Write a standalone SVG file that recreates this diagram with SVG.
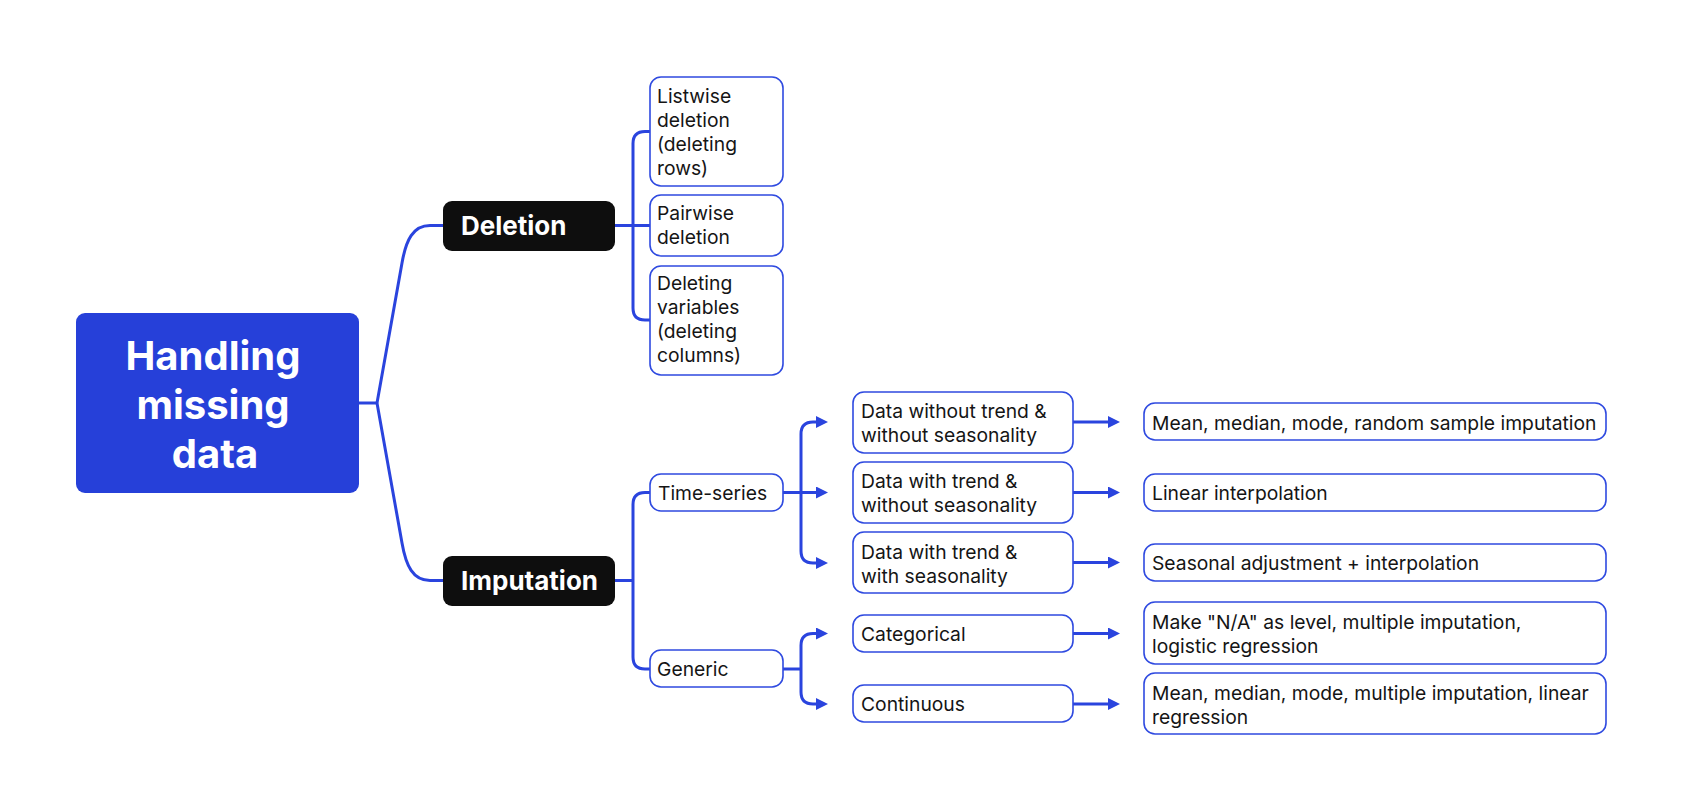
<svg xmlns="http://www.w3.org/2000/svg" width="1683" height="811" viewBox="0 0 1683 811">
<style>
.bg{fill:#ffffff}
.leaf{fill:#ffffff;stroke:#2f4ae0;stroke-width:1.6}
.dark{fill:#0e0e0e}
.t{font-family:Inter,"Open Sans","Liberation Sans",sans-serif;font-size:19.3px;fill:#151515}
.h{font-family:Inter,"Open Sans","Liberation Sans",sans-serif;font-weight:700;fill:#ffffff}
.c{fill:none;stroke:#2a44de;stroke-width:3}
</style>
<defs>
<marker id="arr" viewBox="0 0 12 12" refX="0" refY="6" markerWidth="12" markerHeight="12" markerUnits="userSpaceOnUse" orient="auto">
<path d="M0,0 L12,6 L0,12 z" fill="#2a44de"/>
</marker>
</defs>
<rect class="bg" x="0" y="0" width="1683" height="811"/>
<g id="connectors">
<path class="c" d="M359,403 H377"/>
<path class="c" d="M377,403 L402,263 C406,240 413,225.5 430,225.5 H443"/>
<path class="c" d="M377,403 L402,543 C406,566 413,580.5 430,580.5 H443"/>
<path class="c" d="M615,225.5 H650"/>
<path class="c" d="M650,131.5 H645 Q633,131.5 633,143.5 V308 Q633,320 645,320 H650"/>
<path class="c" d="M615,580.5 H633"/>
<path class="c" d="M650,492.5 H645 Q633,492.5 633,504.5 V657 Q633,669 645,669 H650"/>
<path class="c" d="M783,492.5 H816" marker-end="url(#arr)"/>
<path class="c" d="M801,492.5 V434 Q801,422 813,422 H816" marker-end="url(#arr)"/>
<path class="c" d="M801,492.5 V551 Q801,563 813,563 H816" marker-end="url(#arr)"/>
<path class="c" d="M783,669 H801"/>
<path class="c" d="M801,669 V645.5 Q801,633.5 813,633.5 H816" marker-end="url(#arr)"/>
<path class="c" d="M801,669 V692 Q801,704 813,704 H816" marker-end="url(#arr)"/>
<path class="c" d="M1073,422 H1108" marker-end="url(#arr)"/>
<path class="c" d="M1073,492.5 H1108" marker-end="url(#arr)"/>
<path class="c" d="M1073,562.5 H1108" marker-end="url(#arr)"/>
<path class="c" d="M1073,633.5 H1108" marker-end="url(#arr)"/>
<path class="c" d="M1073,704 H1108" marker-end="url(#arr)"/>
</g>
<g id="root">
<rect x="76" y="313" width="283" height="180" rx="9" fill="#2640d9"/>
<text class="h" font-size="40" text-anchor="middle"><tspan x="213" y="370">Handling</tspan><tspan x="213" y="419">missing</tspan><tspan x="215" y="468">data</tspan></text>
</g>
<g id="deletion">
<rect class="dark" x="443" y="201" width="172" height="50" rx="9"/>
<text class="h" font-size="26" x="461" y="235">Deletion</text>
</g>
<g id="imputation">
<rect class="dark" x="443" y="556" width="172" height="50" rx="9"/>
<text class="h" font-size="26" x="461" y="590">Imputation</text>
</g>
<g id="listwise">
<rect class="leaf" x="650" y="77" width="133" height="109" rx="11"/>
<text class="t"><tspan x="657" y="103">Listwise</tspan><tspan x="657" y="127">deletion</tspan><tspan x="657" y="151">(deleting</tspan><tspan x="657" y="175">rows)</tspan></text>
</g>
<g id="pairwise">
<rect class="leaf" x="650" y="195" width="133" height="61" rx="11"/>
<text class="t"><tspan x="657" y="220">Pairwise</tspan><tspan x="657" y="244">deletion</tspan></text>
</g>
<g id="deleting-variables">
<rect class="leaf" x="650" y="266" width="133" height="109" rx="11"/>
<text class="t"><tspan x="657" y="290">Deleting</tspan><tspan x="657" y="314">variables</tspan><tspan x="657" y="338">(deleting</tspan><tspan x="657" y="362">columns)</tspan></text>
</g>
<g id="time-series">
<rect class="leaf" x="650" y="474" width="133" height="37" rx="11"/>
<text class="t" x="658" y="500">Time-series</text>
</g>
<g id="generic">
<rect class="leaf" x="650" y="650" width="133" height="37" rx="11"/>
<text class="t" x="657" y="676">Generic</text>
</g>
<g id="no-trend-no-season">
<rect class="leaf" x="853" y="392" width="220" height="61" rx="11"/>
<text class="t"><tspan x="861" y="418">Data without trend &amp;</tspan><tspan x="861" y="442">without seasonality</tspan></text>
</g>
<g id="trend-no-season">
<rect class="leaf" x="853" y="462" width="220" height="61" rx="11"/>
<text class="t"><tspan x="861" y="488">Data with trend &amp;</tspan><tspan x="861" y="512">without seasonality</tspan></text>
</g>
<g id="trend-season">
<rect class="leaf" x="853" y="532" width="220" height="61" rx="11"/>
<text class="t"><tspan x="861" y="559">Data with trend &amp;</tspan><tspan x="861" y="583">with seasonality</tspan></text>
</g>
<g id="categorical">
<rect class="leaf" x="853" y="615" width="220" height="37" rx="11"/>
<text class="t" x="861" y="641">Categorical</text>
</g>
<g id="continuous">
<rect class="leaf" x="853" y="685" width="220" height="37" rx="11"/>
<text class="t" x="861" y="711">Continuous</text>
</g>
<g id="mean-random">
<rect class="leaf" x="1144" y="403" width="462" height="37" rx="11"/>
<text class="t" x="1152" y="430">Mean, median, mode, random sample imputation</text>
</g>
<g id="linear-interp">
<rect class="leaf" x="1144" y="474" width="462" height="37" rx="11"/>
<text class="t" x="1152" y="500">Linear interpolation</text>
</g>
<g id="seasonal-adj">
<rect class="leaf" x="1144" y="544" width="462" height="37" rx="11"/>
<text class="t" x="1152" y="570">Seasonal adjustment + interpolation</text>
</g>
<g id="make-na">
<rect class="leaf" x="1144" y="602" width="462" height="62" rx="11"/>
<text class="t"><tspan x="1152" y="629">Make "N/A" as level, multiple imputation,</tspan><tspan x="1152" y="653">logistic regression</tspan></text>
</g>
<g id="mean-multiple">
<rect class="leaf" x="1144" y="673" width="462" height="61" rx="11"/>
<text class="t"><tspan x="1152" y="700">Mean, median, mode, multiple imputation, linear</tspan><tspan x="1152" y="724">regression</tspan></text>
</g>
</svg>
